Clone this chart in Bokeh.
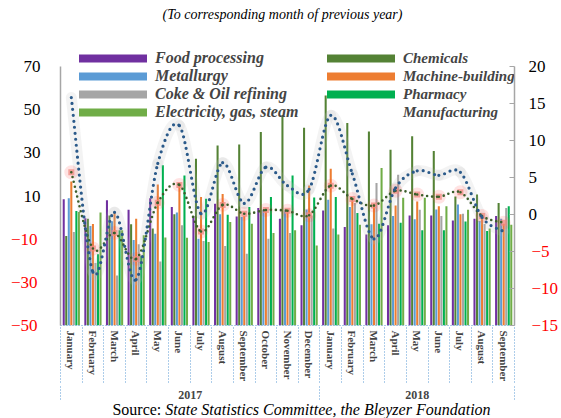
import numpy as np
from bokeh.plotting import figure
from bokeh.layouts import column
from bokeh.models import Range1d, LinearAxis, FixedTicker, Legend, LegendItem, Div
from bokeh.embed import file_html
from bokeh.resources import INLINE

# ---------------- data ----------------
months = ["January", "February", "March", "April", "May", "June", "July", "August",
          "September", "October", "November", "December",
          "January", "February", "March", "April", "May", "June", "July", "August", "September"]
years = ["2017", "2018"]
months_per_year = [12, 9]

food = [8.5, -0.3, 8.0, 3.6, 9.0, 4.9, 0.7, 6.4, 0.5, 4.4, -0.5, -3.6,
        3.3, -4.4, -7.8, -3.6, 1.0, 1.0, -1.3, -0.5, 0.7]
chemicals = [-8.5, -0.5, 1.0, -3.1, -5.0, 1.5, 27.3, 33.4, 33.9, 39.6, 47.3, 41.6,
             56.6, 43.8, 39.9, 31.4, 37.7, 30.8, 9.8, 10.7, 6.7]
metallurgy = [9.0, -3.9, -1.7, -10.4, -7.5, 2.3, -9.8, 1.5, 0.3, 3.3, 2.9, 3.8,
              8.3, 4.9, -3.1, 0.7, -0.8, 3.8, 6.1, -1.6, -0.5]
machine = [16.7, -3.0, 2.3, -0.5, 15.3, 16.1, 9.5, 10.9, 0.7, 4.1, 3.6, 14.9,
           22.6, 8.0, 6.4, 5.6, 7.5, 5.3, 1.5, 0.3, -2.8]
coke = [-6.7, -21.0, -26.8, -12.4, -20.3, -3.6, -10.9, -13.2, -16.7, -9.8, -7.2, 1.0,
        -5.1, 6.7, 16.0, 19.9, 3.6, 0.7, 1.8, -3.0, 4.4]
pharmacy = [3.0, -17.0, -5.9, -17.7, 24.2, 19.5, 8.7, 1.3, 4.9, 9.5, 19.5, 9.3,
            9.5, 2.1, -2.8, -2.4, -5.9, -5.9, -1.8, -6.2, 5.2]
electricity = [2.6, 2.3, -5.9, -8.2, -9.2, -9.3, -11.3, -2.1, -2.8, -7.2, -5.9, -12.9,
               -7.8, -3.3, 23.0, 9.2, 9.2, 5.3, 3.6, -5.1, -3.3]
manufacturing = [15.8, -7.8, 0.3, -8.8, 6.9, 12.0, 0.1, 7.0, 1.5, 6.4, 3.9, 3.4,
                 13.4, 5.5, -3.3, 3.6, 5.9, 5.3, 5.7, -0.4, -2.3]
industry = [5.7, -4.6, -2.5, -6.0, 1.6, 4.0, -2.3, 1.3, 0.1, 0.6, 0.5, -0.1,
            3.9, 2.1, 1.2, 3.2, 2.7, 2.4, 3.0, -0.2, -1.1]

left_ticks = [-50, -30, -10, 10, 30, 50, 70]
right_ticks = [-15, -10, -5, 0, 5, 10, 15, 20]

bar_series = [
    ("Food processing", food, "#7030A0"),
    ("Chemicals", chemicals, "#548235"),
    ("Metallurgy", metallurgy, "#5B9BD5"),
    ("Machine-building", machine, "#ED7D31"),
    ("Coke & Oil refining", coke, "#A5A5A5"),
    ("Pharmacy", pharmacy, "#00B050"),
    ("Electricity, gas, steam", electricity, "#70AD47"),
]

SERIF = "Liberation Serif"
n = len(months)
idx = np.arange(n)
LMIN, LMAX = left_ticks[0], left_ticks[-1]
RMIN, RMAX = right_ticks[0], right_ticks[-1]

# layout (pixels, figure coordinates)
W, TOP_H, H, SRC_H = 561, 30, 371, 17
FRAME_L, FRAME_R, FRAME_T, FRAME_B = 60, 516, 8, 295
AXIS_TOP = 36                     # where the top ticks (70 / 20) sit
head = (AXIS_TOP - FRAME_T) / (FRAME_B - AXIS_TOP)   # extra headroom for the legend

p = figure(width=W, height=H, output_backend="svg", toolbar_location=None,
           x_range=Range1d(-0.5, n - 0.5),
           y_range=Range1d(LMIN, LMAX + (LMAX - LMIN) * head),
           x_axis_type=None, y_axis_type=None,
           min_border_left=FRAME_L, min_border_right=W - FRAME_R,
           min_border_top=FRAME_T, min_border_bottom=H - FRAME_B)
p.extra_y_ranges = {"right": Range1d(RMIN, RMAX + (RMAX - RMIN) * head)}
p.outline_line_color = None
p.title.text = ""
p.title.standoff = 0
p.title.visible = False

# ---------------- y axes ----------------
def y_axis(ticks, keep, range_name="default", color="black"):
    ax = LinearAxis(y_range_name=range_name, ticker=FixedTicker(ticks=ticks),
                    major_label_overrides={v: "" for v in ticks if not keep(v)})
    ax.minor_tick_line_color = None
    ax.major_label_text_font = SERIF
    ax.major_label_text_font_size = "17px"
    ax.major_label_text_color = color
    return ax

yl = y_axis(left_ticks, lambda v: v >= 0)
yl.bounds = (LMIN, LMAX)
yl.axis_line_color = "#A6A6A6"
yl.axis_line_width = 1.5
yl.major_tick_line_color = None
yl.major_tick_out = 0
yl.major_label_standoff = 20
p.add_layout(yl, "left")

yl_neg = y_axis(left_ticks, lambda v: v < 0, color="#FF0000")
yl_neg.axis_line_color = None
yl_neg.major_tick_line_color = None
yl_neg.major_tick_out = 0
yl_neg.major_label_standoff = -17
p.add_layout(yl_neg, "left")

yr = y_axis(right_ticks, lambda v: v >= 0, "right")
yr.bounds = (RMIN, RMAX)
yr.axis_line_color = "#A6A6A6"
yr.axis_line_width = 1.5
yr.major_tick_line_color = "#A6A6A6"
yr.major_tick_in = 5
yr.major_tick_out = 0
yr.major_label_standoff = 14
p.add_layout(yr, "right")

yr_neg = y_axis(right_ticks, lambda v: v < 0, "right", color="#FF0000")
yr_neg.axis_line_color = None
yr_neg.major_tick_line_color = None
yr_neg.major_tick_out = 0
yr_neg.major_label_standoff = -17
p.add_layout(yr_neg, "right")

# ---------------- x axes (months + years with dotted separators) ----------------
sep_color = "#5B9BD5"
MONTH_SEP = 57
xm = LinearAxis(ticker=FixedTicker(ticks=list(idx), minor_ticks=list(np.arange(n + 1) - 0.5)),
                major_label_overrides={int(i): m for i, m in enumerate(months)})
xm.major_label_orientation = "vertical"
xm.major_tick_line_color = None
xm.major_tick_in = 0
xm.major_tick_out = 0
xm.minor_tick_in = 0
xm.minor_tick_out = MONTH_SEP
xm.minor_tick_line_color = sep_color
xm.minor_tick_line_dash = "1 2"
xm.axis_line_color = sep_color
xm.axis_line_dash = "1 2"
xm.major_label_standoff = 5 - MONTH_SEP
xm.major_label_text_font = SERIF
xm.major_label_text_font_style = "bold"
xm.major_label_text_font_size = "11px"
p.add_layout(xm, "below")

YEAR_SEP = 21
starts = np.cumsum([0] + months_per_year)
year_centers = [float((starts[i] + starts[i + 1] - 1) / 2) for i in range(len(years))]
year_bounds = [float(s - 0.5) for s in starts]
xy = LinearAxis(ticker=FixedTicker(ticks=year_centers, minor_ticks=year_bounds),
                major_label_overrides={c: y for c, y in zip(year_centers, years)})
xy.axis_line_color = None
xy.major_tick_line_color = None
xy.major_tick_in = 0
xy.major_tick_out = 0
xy.minor_tick_in = 0
xy.minor_tick_out = YEAR_SEP
xy.minor_tick_line_color = sep_color
xy.minor_tick_line_dash = "1 2"
xy.major_label_standoff = 6 - YEAR_SEP
xy.major_label_text_font = SERIF
xy.major_label_text_font_style = "bold"
xy.major_label_text_font_size = "12px"
p.add_layout(xy, "below")

# ---------------- bars ----------------
bar_step = 0.117
bar_renderers = {}
for k, (name, vals, col) in enumerate(bar_series):
    r = p.vbar(x=idx + (k - 3) * bar_step, top=vals, bottom=LMIN, width=0.095,
               fill_color=col, line_color=None)
    bar_renderers[name] = r


# ---------------- smoothed lines ----------------
def smooth_segments(vals):
    x = idx.astype(float)
    y = np.asarray(vals, dtype=float)
    xp = np.concatenate([[x[0]], x, [x[-1]]])
    yp = np.concatenate([[y[0]], y, [y[-1]]])
    m = len(y)
    return dict(
        x0=x[:-1], y0=y[:-1], x1=x[1:], y1=y[1:],
        cx0=x[:-1] + (xp[2:m + 1] - xp[0:m - 1]) / 6.0,
        cy0=y[:-1] + (yp[2:m + 1] - yp[0:m - 1]) / 6.0,
        cx1=x[1:] - (xp[3:m + 2] - xp[1:m]) / 6.0,
        cy1=y[1:] - (yp[3:m + 2] - yp[1:m]) / 6.0,
    )


man = smooth_segments(manufacturing)
ind = smooth_segments(industry)

p.bezier(**man, y_range_name="right", line_color="#B5B5B5", line_alpha=0.16, line_width=11,
         line_cap="round")

p.scatter(idx, industry, y_range_name="right", marker="circle", size=14,
          fill_color="#FF4040", fill_alpha=0.15, line_color=None)
p.scatter(idx, industry, y_range_name="right", marker="square", size=6,
          fill_color="#F08A80", fill_alpha=0.75, line_color=None)

ind_style = dict(line_color="#3B5E2B", line_width=2.6, line_dash="0 5", line_cap="round")
man_style = dict(line_color="#2B5A8A", line_width=3.2, line_dash="0 6", line_cap="round")
p.bezier(**ind, y_range_name="right", **ind_style)
p.bezier(**man, y_range_name="right", **man_style)

man_proxy = p.line(x=[], y=[], y_range_name="right", **man_style)

# ---------------- legends ----------------
leg_common = dict(padding=0, margin=0, spacing=0, border_line_color=None,
                  background_fill_alpha=0, label_text_font=SERIF,
                  label_text_font_style="bold italic",
                  label_height=18, glyph_height=10)

left_names = ["Food processing", "Metallurgy", "Coke & Oil refining", "Electricity, gas, steam"]
right_names = ["Chemicals", "Machine-building", "Pharmacy"]

leg_left = Legend(items=[LegendItem(label=nm, renderers=[bar_renderers[nm]]) for nm in left_names],
                  location=(10, 204), glyph_width=85, label_standoff=0,
                  label_text_font_size="16px", **leg_common)
leg_right = Legend(items=[LegendItem(label=nm, renderers=[bar_renderers[nm]]) for nm in right_names],
                   location=(258, 222), glyph_width=85, label_standoff=0,
                   label_text_font_size="15px", **leg_common)
leg_man = Legend(items=[LegendItem(label="Manufacturing", renderers=[man_proxy])],
                 location=(267, 204), glyph_width=68, label_standoff=8,
                 label_text_font_size="15px", **leg_common)
for lg in (leg_left, leg_right, leg_man):
    p.add_layout(lg)

# ---------------- subtitle and source lines ----------------
subtitle = Div(text="<i>(To corresponding month of previous year)</i>",
               width=W, height=TOP_H, margin=0,
               styles={"font-family": SERIF, "font-size": "14px", "line-height": "30px",
                       "text-align": "center", "padding-left": "4px", "color": "black",
                       "white-space": "nowrap"})
source = Div(text='Source: <i>State Statistics Committee, the Bleyzer Foundation</i>',
             width=W, height=SRC_H, margin=0,
             styles={"font-family": SERIF, "font-size": "16px", "line-height": "17px",
                     "text-align": "center", "padding-left": "42px", "color": "black",
                     "white-space": "nowrap"})

layout = column(subtitle, p, source, spacing=0)
open("out.html", "w").write(file_html(layout, INLINE))
